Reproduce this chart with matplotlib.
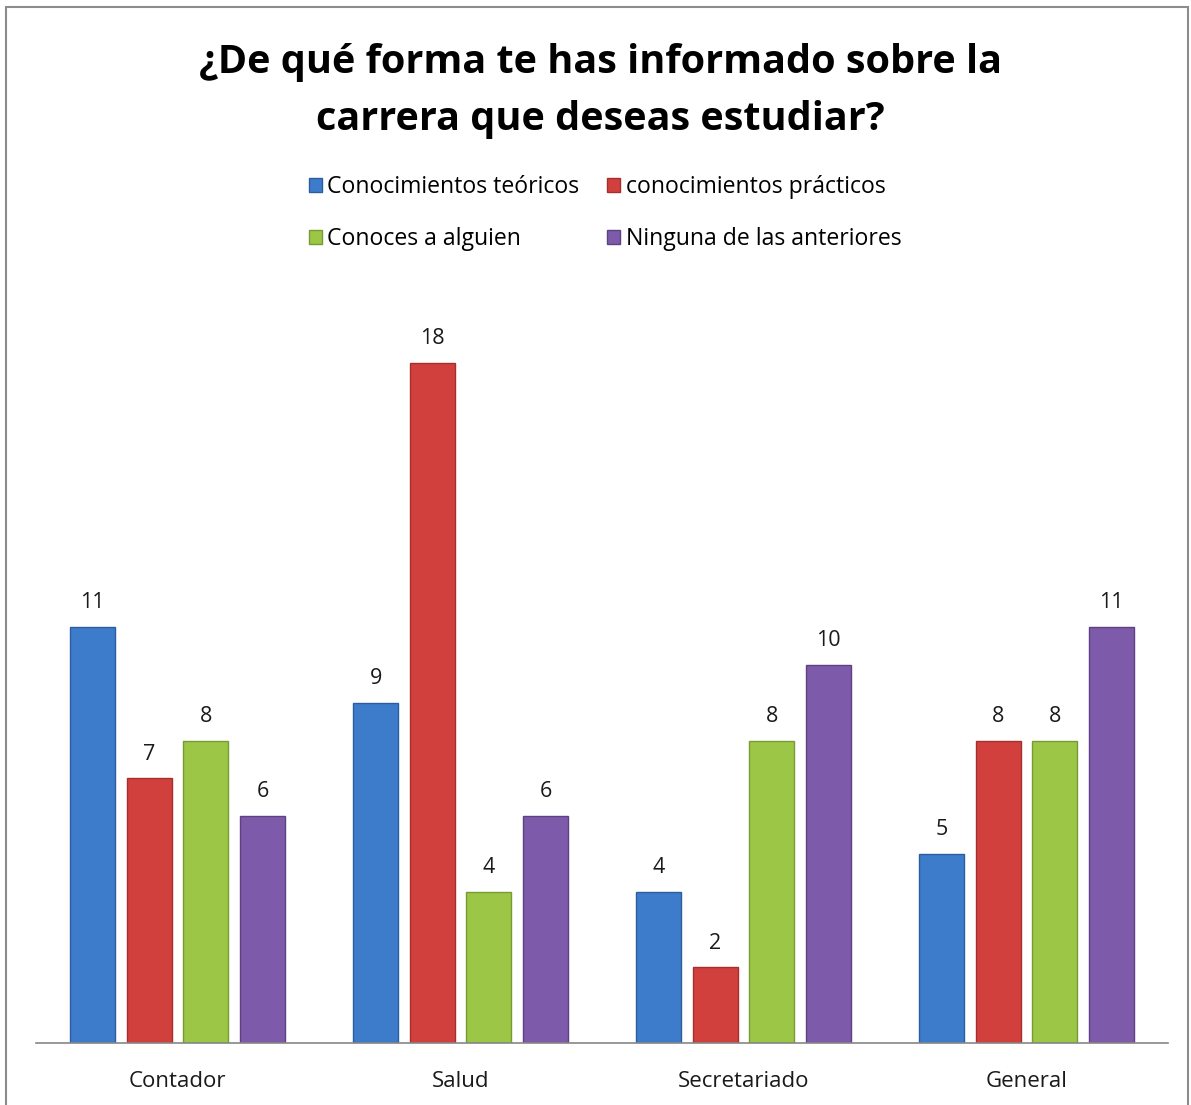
import matplotlib
matplotlib.use("Agg")
import matplotlib.pyplot as plt
from matplotlib.patches import Rectangle, Patch
import numpy as np

categories = ["Contador", "Salud", "Secretariado", "General"]
series_names = ["Conocimientos teóricos", "conocimientos prácticos",
                "Conoces a alguien", "Ninguna de las anteriores"]
teoricos = [11, 9, 4, 5]
practicos = [7, 18, 2, 8]
conoces = [8, 4, 8, 8]
ninguna = [6, 6, 10, 11]
series_values = [teoricos, practicos, conoces, ninguna]

colors = ["#3D7BCB", "#D2403D", "#9CC646", "#7D5BAA"]
edges = ["#2C5E9E", "#A42F2C", "#779A33", "#5E4184"]

W, H = 1191, 1105
fig = plt.figure(figsize=(W / 100, H / 100), dpi=100)
fig.patch.set_facecolor("white")

# outer border
fig.add_artist(Rectangle((6 / W, -0.05), (1188 - 6) / W, (H - 7) / H + 0.05,
                         transform=fig.transFigure, fill=False,
                         edgecolor="#8C8C8C", linewidth=1.5))

ax = fig.add_axes([36 / W, 62 / H, (1168 - 36) / W, 756 / H])
ax.set_xlim(-0.5, 3.5)
ax.set_ylim(0, 20)

x = np.arange(len(categories))
pitch = 0.2
width = 0.158
for i, (vals, c, ec, name) in enumerate(zip(series_values, colors, edges, series_names)):
    pos = x + (i - 1.5) * pitch
    ax.bar(pos, vals, width=width, color=c, edgecolor=ec, linewidth=1.0, label=name, zorder=2)
    for px, v in zip(pos, vals):
        ax.annotate(str(v), (px, v), xytext=(0, 10), textcoords="offset points",
                    ha="center", va="bottom", fontsize=15.5, family="Open Sans",
                    color="#1a1a1a")

for s in ["top", "right", "left"]:
    ax.spines[s].set_visible(False)
ax.spines["bottom"].set_color("#868686")
ax.spines["bottom"].set_linewidth(1.2)
ax.set_yticks([])
ax.set_xticks(x)
ax.set_xticklabels(categories, fontsize=16, family="Open Sans", color="#1a1a1a")
ax.tick_params(axis="x", length=0, pad=20)

fig.text(0.504, 1 - 91 / H, "¿De qué forma te has informado sobre la\ncarrera que deseas estudiar?",
         ha="center", va="center", fontsize=28.5, fontweight="bold", family="Open Sans",
         linespacing=1.58, color="#000000")

order = [0, 2, 1, 3]
handles = [Patch(facecolor=colors[k], edgecolor=edges[k]) for k in order]
labels = [series_names[k] for k in order]
leg = fig.legend(handles, labels, loc="center", bbox_to_anchor=(0.508, 1 - 213 / H),
                 ncol=2, frameon=False, prop={"family": "Open Sans", "size": 16.6},
                 handlelength=0.55, handleheight=0.55, handletextpad=0.25,
                 columnspacing=1.2, labelspacing=1.2)

fig.savefig("out.png", dpi=100, facecolor="white")
